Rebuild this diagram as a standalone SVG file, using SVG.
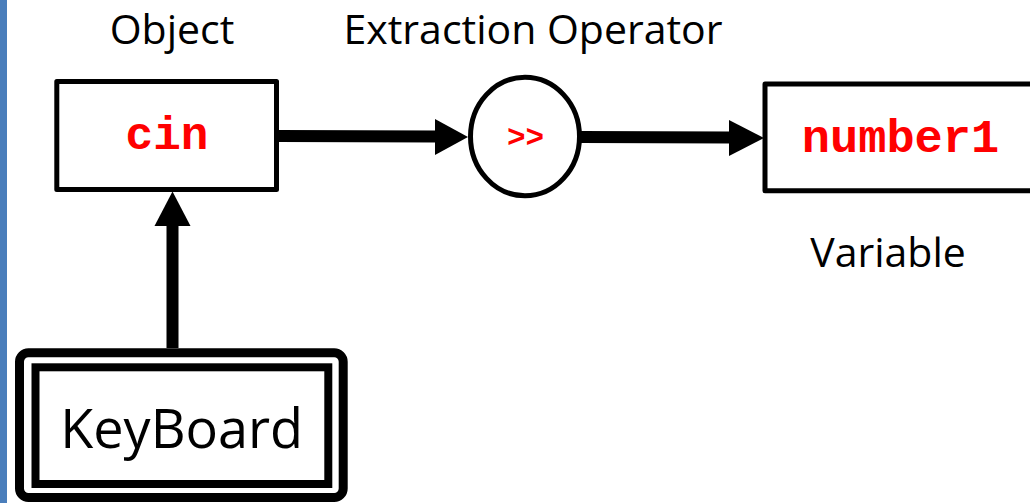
<svg xmlns="http://www.w3.org/2000/svg" width="1030" height="503" viewBox="0 0 1030 503">
  <defs>
    <style>
      .label { font-family: "Open Sans", "Liberation Sans", sans-serif; fill: #000; text-anchor: middle; }
      .code { font-family: "Liberation Mono", "Courier New", monospace; font-weight: bold; fill: #ff0000; text-anchor: middle; }
      .box { fill: #fff; stroke: #000; stroke-width: 5; stroke-linejoin: round; }
      .wire { stroke: #000; stroke-width: 12; fill: none; }
      .head { fill: #000; }
    </style>
  </defs>

  <rect width="1030" height="503" fill="#fff"/>
  <!-- slide edge bar -->
  <rect x="0" y="0" width="7" height="503" fill="#4a7ebb"/>

  <!-- captions -->
  <text class="label" x="172" y="44" font-size="41">Object</text>
  <text class="label" x="533" y="44" font-size="41">Extraction Operator</text>
  <text class="label" x="888" y="267" font-size="41">Variable</text>

  <!-- connectors -->
  <g id="connectors">
    <line class="wire" x1="279" y1="136" x2="437" y2="136.5"/>
    <polygon class="head" points="435,119 468,137 435,155"/>
    <line class="wire" x1="581" y1="137" x2="731" y2="137.5"/>
    <polygon class="head" points="729,120 764,138 729,156"/>
    <line class="wire" x1="172.5" y1="348" x2="172.5" y2="224"/>
    <polygon class="head" points="154.5,226 172.5,191.5 190.5,226"/>
  </g>

  <g id="cin">
    <rect class="box" x="56.8" y="81.5" width="219.7" height="108"/>
    <text class="code" x="167" y="148.5" font-size="46">cin</text>
  </g>

  <g id="extraction-operator">
    <ellipse class="box" cx="525" cy="136.5" rx="54.5" ry="59.3"/>
    <text class="code" x="525.5" y="146.5" font-size="31">&gt;&gt;</text>
  </g>

  <g id="number1">
    <rect class="box" x="765" y="84" width="290" height="106.8"/>
    <text class="code" x="900.5" y="152" font-size="47">number1</text>
  </g>

  <g id="keyboard">
    <rect x="19.5" y="352.8" width="323.7" height="144.7" rx="9" fill="#fff" stroke="#000" stroke-width="9"/>
    <rect x="35.5" y="367.3" width="292.8" height="116.7" fill="none" stroke="#000" stroke-width="8"/>
    <text class="label" x="181.7" y="448" font-size="54">KeyBoard</text>
  </g>
</svg>
